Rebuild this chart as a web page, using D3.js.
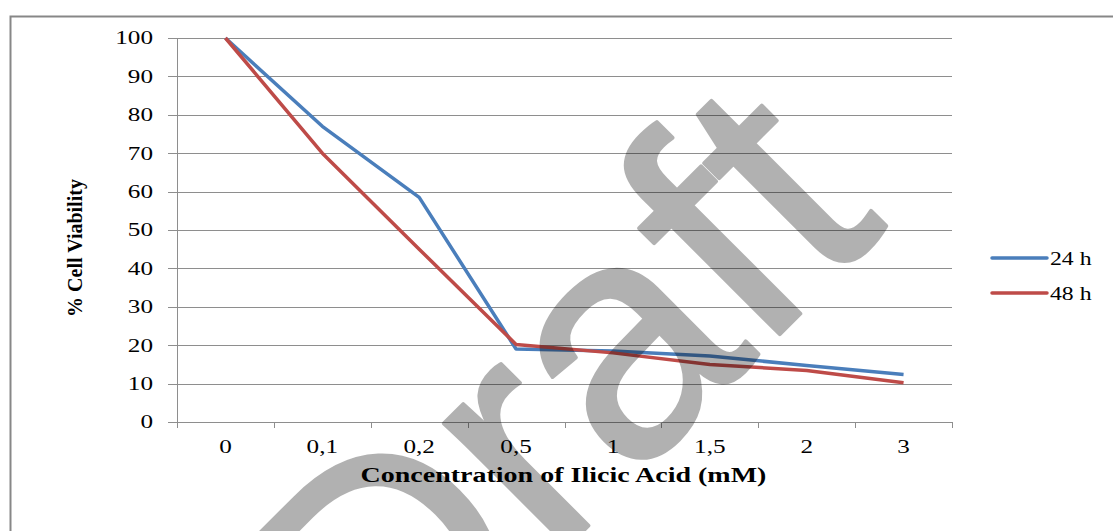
<!DOCTYPE html>
<meta charset="utf-8">
<style>
body { margin: 0; background: #fff; }
.grid line { stroke: #8e8e8e; shape-rendering: crispEdges; }
.axis path, .axis line { stroke: #8e8e8e; fill: none; shape-rendering: crispEdges; }
.lbl { font-family: "Liberation Serif", "Times New Roman", serif; fill: #000; }
</style>
<svg width="1113" height="531"></svg>
<script src="https://cdn.jsdelivr.net/npm/d3@7"></script>
<script>

var categories = ["0", "0,1", "0,2", "0,5", "1", "1,5", "2", "3"];
var h24 = [100, 77, 58.5, 19, 18.5, 17.2, 14.7, 12.4];
var h48 = [100, 70, 45, 20.2, 18, 15, 13.4, 10.2];
var yTicks = [0, 10, 20, 30, 40, 50, 60, 70, 80, 90, 100];
var seriesNames = ["24 h", "48 h"];
var seriesColors = ["#4a7ebb", "#be4b48"];

var svg = d3.select("svg"),
    margin = {top: 38, left: 177},
    width = 775,
    height = 384,
    stretch = 1.4;

// outer frame
svg.append("rect")
    .attr("x", 10.5).attr("y", 16.5)
    .attr("width", 1300).attr("height", 700)
    .attr("fill", "none")
    .attr("stroke", "#878787")
    .attr("stroke-width", 2);

var x = d3.scaleBand().domain(categories).range([0, width]);
var y = d3.scaleLinear().domain([0, 100]).range([height, 0]);

var g = svg.append("g")
    .attr("transform", "translate(" + margin.left + "," + margin.top + ")");

g.append("g")
    .attr("class", "grid")
  .selectAll("line").data(yTicks.slice(1)).enter().append("line")
    .attr("x1", 0).attr("x2", width)
    .attr("y1", function(d) { return Math.round(y(d)) + 0.5; })
    .attr("y2", function(d) { return Math.round(y(d)) + 0.5; });

// y axis
var ya = g.append("g").attr("class", "axis");
ya.append("line").attr("x1", 0.5).attr("x2", 0.5).attr("y1", 0).attr("y2", height);
ya.selectAll(".tk").data(yTicks).enter().append("line")
    .attr("x1", -9).attr("x2", 0)
    .attr("y1", function(d) { return Math.round(y(d)) + 0.5; })
    .attr("y2", function(d) { return Math.round(y(d)) + 0.5; });
ya.selectAll("text").data(yTicks).enter().append("text")
    .attr("class", "lbl")
    .attr("font-size", 18)
    .attr("text-anchor", "end")
    .attr("dy", "0.35em")
    .attr("transform", function(d) { return "translate(-24," + y(d) + ") scale(" + stretch + ",1)"; })
    .text(function(d) { return d; });

// x axis
var xa = g.append("g").attr("class", "axis");
xa.append("line").attr("x1", 0).attr("x2", width).attr("y1", height + 0.5).attr("y2", height + 0.5);
xa.selectAll(".tk").data(d3.range(categories.length + 1)).enter().append("line")
    .attr("x1", function(i) { return Math.round(i * x.step()) + 0.5; })
    .attr("x2", function(i) { return Math.round(i * x.step()) + 0.5; })
    .attr("y1", height).attr("y2", height + 6);
xa.selectAll("text").data(categories).enter().append("text")
    .attr("class", "lbl")
    .attr("font-size", 18)
    .attr("text-anchor", "middle")
    .attr("transform", function(d) { return "translate(" + (x(d) + x.bandwidth() / 2) + "," + (height + 31) + ") scale(" + stretch + ",1)"; })
    .text(function(d) { return d; });

// axis titles
g.append("text")
    .attr("class", "lbl")
    .attr("font-size", 20)
    .attr("font-weight", "bold")
    .attr("text-anchor", "middle")
    .attr("transform", "translate(" + (width / 2 - 1) + "," + (height + 60) + ") scale(1.4,1)")
    .text("Concentration of Ilicic Acid  (mM)");

svg.append("text")
    .attr("class", "lbl")
    .attr("font-size", 20)
    .attr("font-weight", "bold")
    .attr("text-anchor", "middle")
    .attr("transform", "translate(82,248) rotate(-90)")
    .text("% Cell Viability");

// series
var line = d3.line()
    .x(function(d, i) { return x(categories[i]) + x.bandwidth() / 2; })
    .y(function(d) { return y(d); });

[h24, h48].forEach(function(s, k) {
  g.append("path")
      .datum(s)
      .attr("fill", "none")
      .attr("stroke", seriesColors[k])
      .attr("stroke-width", 3.5)
      .attr("stroke-linejoin", "round")
      .attr("d", line);
});

// legend
var legend = svg.append("g").selectAll("g").data(seriesNames).enter().append("g")
    .attr("transform", function(d, i) { return "translate(992," + (258 + i * 35) + ")"; });
legend.append("line")
    .attr("x1", 0).attr("x2", 55)
    .attr("stroke", function(d, i) { return seriesColors[i]; })
    .attr("stroke-width", 3.5)
    .attr("stroke-linecap", "round");
legend.append("text")
    .attr("class", "lbl")
    .attr("font-size", 18)
    .attr("transform", "translate(58,7) scale(1.32,1)")
    .text(function(d) { return d; });

// watermark
svg.append("g")
    .attr("opacity", 0.3)
  .append("text")
    .attr("font-family", "Liberation Sans, Arial, sans-serif")
    .attr("font-size", 330)
    .attr("text-anchor", "middle")
    .attr("fill", "#000")
    .attr("stroke", "#000")
    .attr("stroke-width", 4)
    .attr("stroke-linejoin", "round")
    .attr("transform", "translate(636,478) rotate(-45)")
    .text("Draft");

</script>
